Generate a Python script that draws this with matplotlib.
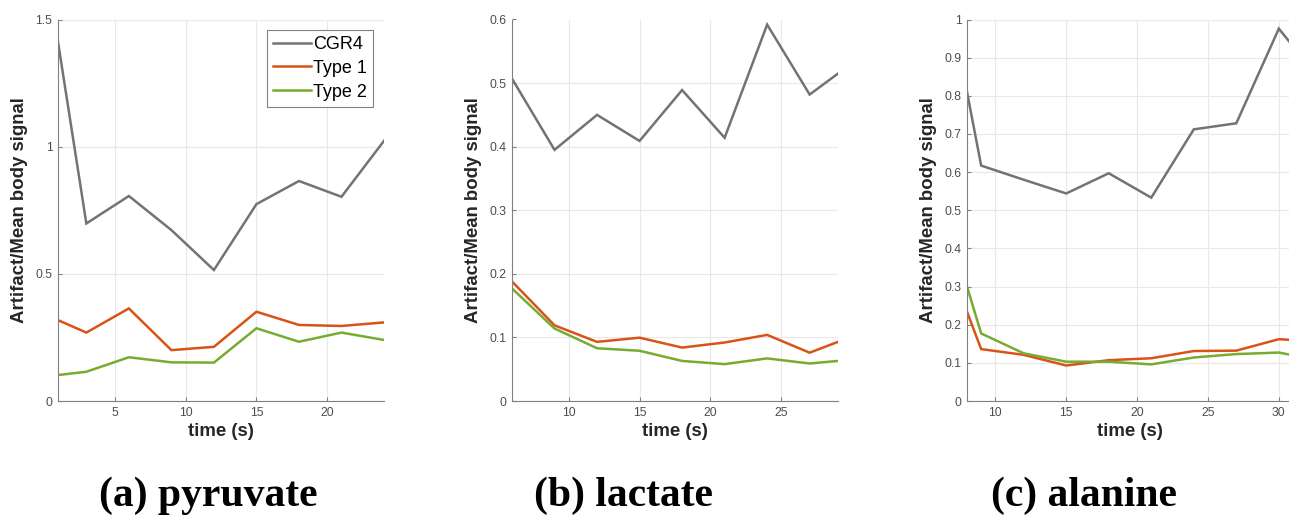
import numpy as np
import matplotlib
matplotlib.use("Agg")
import matplotlib.pyplot as plt
from matplotlib.ticker import FormatStrFormatter, MultipleLocator

# time points (s) and artifact / mean body signal per metabolite
pyr_t = [1, 3, 6, 9, 12, 15, 18, 21, 24]
pyr_cgr4 = [1.412, 0.698, 0.806, 0.672, 0.515, 0.774, 0.865, 0.803, 1.023]
pyr_type1 = [0.318, 0.269, 0.364, 0.200, 0.213, 0.351, 0.299, 0.295, 0.309]
pyr_type2 = [0.102, 0.115, 0.172, 0.152, 0.151, 0.286, 0.233, 0.269, 0.240]

lac_t = [6, 9, 12, 15, 18, 21, 24, 27, 29]
lac_cgr4 = [0.507, 0.395, 0.450, 0.409, 0.489, 0.414, 0.592, 0.482, 0.515]
lac_type1 = [0.188, 0.119, 0.093, 0.0996, 0.084, 0.092, 0.104, 0.076, 0.093]
lac_type2 = [0.177, 0.114, 0.083, 0.079, 0.063, 0.058, 0.067, 0.059, 0.063]

ala_t = [8, 9, 12, 15, 18, 21, 24, 27, 30, 31]
ala_cgr4 = [0.810, 0.617, 0.580, 0.544, 0.597, 0.533, 0.712, 0.728, 0.976, 0.930]
ala_type1 = [0.234, 0.136, 0.121, 0.093, 0.107, 0.112, 0.131, 0.132, 0.162, 0.160]
ala_type2 = [0.300, 0.177, 0.125, 0.103, 0.103, 0.096, 0.114, 0.123, 0.127, 0.120]

series_names = ["CGR4", "Type 1", "Type 2"]
colors = ["#737373", "#D95319", "#77AC30"]

panels = [
    ("(a) pyruvate", pyr_t, [pyr_cgr4, pyr_type1, pyr_type2], (1, 24), (0, 1.5), 0.5),
    ("(b) lactate", lac_t, [lac_cgr4, lac_type1, lac_type2], (6, 29), (0, 0.6), 0.1),
    ("(c) alanine", ala_t, [ala_cgr4, ala_type1, ala_type2], (8, 31), (0, 1.0), 0.1),
]

W, H = 1289, 516
fig = plt.figure(figsize=(W / 100, H / 100), dpi=100)
plt.rcParams["font.family"] = ["Liberation Sans", "DejaVu Sans"]

lefts = [58, 512, 967]
ax_w = 326
ax_top, ax_bot = 19.5, 401
caption_x = [208, 624, 1084]

for i, (cap, t, ys, xl, yl, ystep) in enumerate(panels):
    ax = fig.add_axes([lefts[i] / W, 1 - ax_bot / H, ax_w / W, (ax_bot - ax_top) / H])
    for y, name, c in zip(ys, series_names, colors):
        ax.plot(t, y, color=c, lw=1.8, label=name, solid_joinstyle="miter")
    ax.set_xlim(*xl)
    ax.set_ylim(*yl)
    ax.xaxis.set_major_locator(MultipleLocator(5))
    ax.yaxis.set_major_locator(MultipleLocator(ystep))
    ax.yaxis.set_major_formatter(FormatStrFormatter("%g"))
    ax.grid(True, color="#e8e8e8", lw=0.8)
    ax.set_axisbelow(True)
    for s in ["top", "right"]:
        ax.spines[s].set_visible(False)
    for s in ["left", "bottom"]:
        ax.spines[s].set_color("#808080")
        ax.spines[s].set_linewidth(0.8)
    ax.tick_params(direction="in", length=3, width=0.8, color="#808080",
                   labelsize=8.8, labelcolor="#4d4d4d", pad=4)
    ax.set_xlabel("time (s)", fontsize=13.4, fontweight="bold", color="#262626", labelpad=3)
    ax.set_ylabel("Artifact/Mean body signal", fontsize=13.4, fontweight="bold",
                  color="#262626", labelpad=5)
    if i == 0:
        leg = ax.legend(loc="upper right", bbox_to_anchor=(1.0 - 11 / ax_w, 1.0 - 10 / (ax_bot - ax_top)),
                        fontsize=13, handlelength=2.1, handletextpad=0.1,
                        labelspacing=0.38, borderpad=0.35, borderaxespad=0,
                        fancybox=False, framealpha=1)
        leg.get_frame().set_edgecolor("#808080")
        leg.get_frame().set_linewidth(0.8)
    fig.text(caption_x[i] / W, (H - 506) / H, cap, ha="center", va="baseline",
             family=["Liberation Serif", "DejaVu Serif"], fontweight="bold", fontsize=30)

fig.savefig("out.png", dpi=100)
